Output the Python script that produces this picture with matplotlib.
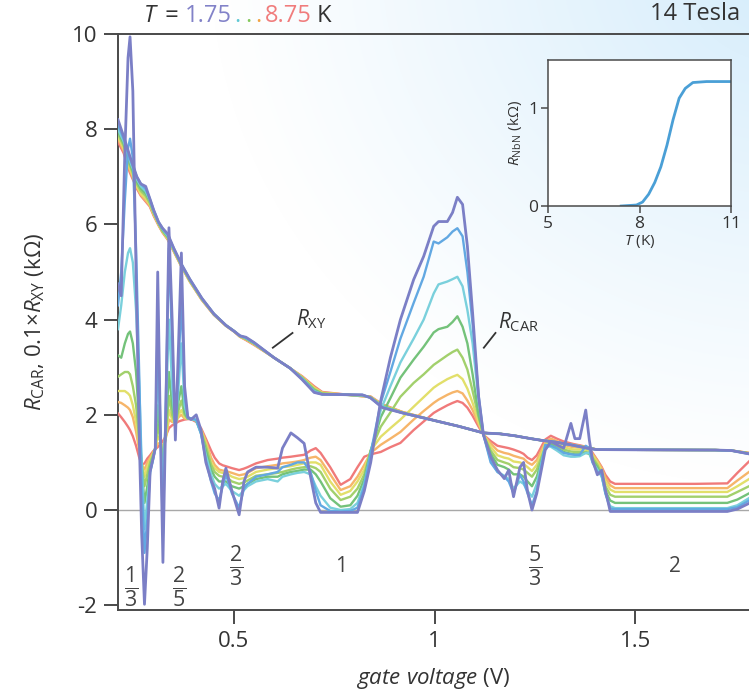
import numpy as np
import matplotlib
matplotlib.use('Agg')
import matplotlib.pyplot as plt

plt.rcParams['font.family'] = ['Open Sans', 'DejaVu Sans']
plt.rcParams['mathtext.fontset'] = 'custom'
plt.rcParams['mathtext.rm'] = 'Open Sans'
plt.rcParams['mathtext.it'] = 'Open Sans:italic'
plt.rcParams['mathtext.bf'] = 'Open Sans:bold'

# temperatures of the sweeps, coldest first
temps = [1.75, 2.75, 3.75, 4.75, 5.75, 6.75, 7.75, 8.75]
colors = ['#7b7fc6', '#62a8e2', '#7ad0dc', '#74c27a', '#a2d06c', '#e2df6a', '#f6b56a', '#f07a7a']

# R_CAR (kOhm) vs gate voltage (V)
gate_v = [0.211, 0.219, 0.228, 0.236, 0.241, 0.248, 0.256, 0.264, 0.270, 0.277,
          0.284, 0.291, 0.298, 0.304, 0.310, 0.316, 0.323, 0.330, 0.338, 0.346,
          0.354, 0.362, 0.369, 0.377, 0.385, 0.393, 0.406, 0.418, 0.430, 0.443,
          0.452, 0.463, 0.472, 0.480, 0.495, 0.513, 0.525, 0.534, 0.555, 0.584,
          0.609, 0.621, 0.642, 0.658, 0.675, 0.691, 0.704, 0.716, 0.740, 0.766,
          0.790, 0.808, 0.825, 0.841, 0.866, 0.890, 0.915, 0.948, 0.973, 0.998,
          1.010, 1.032, 1.045, 1.057, 1.070, 1.082, 1.095, 1.110, 1.122, 1.140,
          1.157, 1.174, 1.185, 1.197, 1.213, 1.222, 1.232, 1.243, 1.255, 1.276,
          1.290, 1.305, 1.322, 1.340, 1.350, 1.362, 1.377, 1.386, 1.394, 1.406,
          1.417, 1.426, 1.438, 1.450, 1.55, 1.65, 1.73, 1.755, 1.784]

rcar_175 = [4.75, 4.5, 7.5, 9.5, 9.94, 8.8, 5.0, 1.5, -0.5, -1.98,
            -0.8, 0.8, 1.07, 1.3, 5.0, 2.0, -1.1, 2.0, 5.93, 4.0,
            1.47, 3.5, 5.4, 2.6, 1.95, 1.9, 2.0, 1.68, 1.0, 0.63,
            0.45, 0.04, 0.6, 0.88, 0.4, -0.1, 0.6, 0.8, 0.9, 0.9,
            0.88, 1.3, 1.62, 1.52, 1.4, 0.7, 0.15, -0.05, -0.05, -0.05,
            -0.05, -0.05, 0.4, 1.0, 2.3, 3.2, 4.0, 4.84, 5.33, 5.96,
            6.06, 6.06, 6.25, 6.57, 6.42, 5.54, 4.14, 2.38, 1.58, 1.12,
            0.84, 0.66, 0.84, 0.28, 0.9, 1.0, 0.39, 0.0, 0.35, 1.26,
            1.44, 1.37, 1.3, 1.82, 1.5, 1.5, 2.1, 1.47, 1.05, 0.74,
            0.84, 0.42, -0.03, -0.03, -0.03, -0.03, -0.03, 0.02, 0.14]
rcar_275 = [4.3, 5.0, 6.5, 7.6, 7.8, 7.4, 5.5, 2.8, 0.6, -0.9,
            -0.2, 0.8, 1.05, 1.3, 4.0, 2.0, -0.5, 2.2, 5.5, 3.5,
            1.6, 3.0, 4.5, 2.4, 1.95, 1.92, 1.9, 1.6, 1.05, 0.6,
            0.35, 0.2, 0.5, 0.75, 0.35, 0.05, 0.45, 0.55, 0.7, 0.75,
            0.8, 0.9, 0.95, 1.0, 1.0, 0.8, 0.4, 0.1, -0.02, -0.03,
            -0.02, 0.05, 0.5, 1.2, 2.25, 2.9, 3.6, 4.35, 4.9, 5.64,
            5.6, 5.73, 5.85, 5.92, 5.75, 5.0, 3.9, 2.4, 1.58, 1.0,
            0.8, 0.7, 0.6, 0.35, 0.74, 0.6, 0.35, 0.1, 0.4, 1.37,
            1.35, 1.3, 1.2, 1.17, 1.16, 1.16, 1.35, 1.3, 1.0, 0.8,
            0.74, 0.35, 0.03, 0.02, 0.02, 0.02, 0.02, 0.06, 0.2]
rcar_375 = [3.8, 4.3, 5.0, 5.4, 5.5, 5.2, 4.2, 2.6, 1.0, -0.4,
            0.2, 0.8, 1.05, 1.3, 3.0, 1.8, 0.3, 2.0, 4.0, 2.6,
            1.7, 2.6, 3.5, 2.2, 1.93, 1.92, 1.88, 1.6, 1.15, 0.75,
            0.55, 0.45, 0.5, 0.55, 0.4, 0.3, 0.42, 0.5, 0.6, 0.65,
            0.6, 0.7, 0.75, 0.78, 0.8, 0.75, 0.5, 0.3, 0.05, 0.0,
            0.02, 0.15, 0.55, 1.2, 2.1, 2.6, 3.1, 3.6, 4.0, 4.55,
            4.74, 4.8, 4.85, 4.9, 4.7, 4.2, 3.5, 2.3, 1.58, 1.05,
            0.8, 0.72, 0.65, 0.45, 0.6, 0.55, 0.4, 0.28, 0.55, 1.35,
            1.33, 1.25, 1.15, 1.12, 1.12, 1.13, 1.2, 1.2, 1.0, 0.85,
            0.7, 0.35, 0.08, 0.04, 0.04, 0.04, 0.04, 0.1, 0.25]
rcar_475 = [3.25, 3.2, 3.5, 3.7, 3.75, 3.5, 2.9, 1.8, 0.9, 0.15,
            0.5, 0.9, 1.1, 1.3, 2.2, 1.6, 0.8, 1.7, 2.9, 2.2,
            1.8, 2.3, 2.6, 2.05, 1.92, 1.92, 1.88, 1.62, 1.25, 0.85,
            0.7, 0.6, 0.6, 0.6, 0.5, 0.45, 0.5, 0.55, 0.65, 0.7,
            0.7, 0.75, 0.8, 0.82, 0.85, 0.85, 0.75, 0.6, 0.25, 0.07,
            0.1, 0.3, 0.65, 1.25, 1.95, 2.35, 2.78, 3.16, 3.43, 3.73,
            3.8, 3.85, 3.95, 4.07, 3.85, 3.5, 2.85, 2.0, 1.58, 1.18,
            0.95, 0.9, 0.85, 0.75, 0.75, 0.7, 0.6, 0.5, 0.7, 1.3,
            1.38, 1.3, 1.22, 1.18, 1.17, 1.17, 1.2, 1.18, 1.05, 0.9,
            0.7, 0.4, 0.2, 0.15, 0.15, 0.15, 0.15, 0.22, 0.35]
rcar_575 = [2.8, 2.85, 2.9, 2.9, 2.85, 2.6, 2.2, 1.5, 1.0, 0.5,
            0.75, 1.0, 1.15, 1.3, 1.8, 1.5, 1.1, 1.55, 2.4, 2.0,
            1.8, 2.1, 2.3, 2.0, 1.92, 1.92, 1.88, 1.65, 1.35, 0.95,
            0.8, 0.72, 0.7, 0.7, 0.6, 0.55, 0.58, 0.62, 0.72, 0.75,
            0.78, 0.8, 0.85, 0.88, 0.9, 0.92, 0.88, 0.8, 0.45, 0.21,
            0.28, 0.45, 0.75, 1.25, 1.75, 2.05, 2.38, 2.67, 2.85, 3.05,
            3.12, 3.25, 3.32, 3.37, 3.2, 2.95, 2.5, 1.95, 1.58, 1.25,
            1.05, 1.0, 0.97, 0.9, 0.88, 0.85, 0.78, 0.7, 0.85, 1.32,
            1.42, 1.35, 1.27, 1.23, 1.22, 1.22, 1.22, 1.2, 1.1, 0.95,
            0.75, 0.5, 0.32, 0.28, 0.28, 0.28, 0.28, 0.38, 0.5]
rcar_675 = [2.5, 2.5, 2.5, 2.45, 2.4, 2.2, 1.85, 1.35, 1.0, 0.7,
            0.9, 1.05, 1.17, 1.3, 1.55, 1.45, 1.25, 1.5, 2.1, 1.9,
            1.8, 2.0, 2.1, 1.95, 1.92, 1.92, 1.88, 1.67, 1.4, 1.0,
            0.88, 0.8, 0.78, 0.78, 0.7, 0.65, 0.67, 0.7, 0.8, 0.85,
            0.88, 0.9, 0.92, 0.95, 0.98, 1.0, 1.0, 0.95, 0.6, 0.32,
            0.4, 0.6, 0.85, 1.25, 1.54, 1.72, 1.9, 2.17, 2.37, 2.57,
            2.64, 2.75, 2.8, 2.84, 2.75, 2.55, 2.25, 1.85, 1.58, 1.33,
            1.15, 1.1, 1.08, 1.02, 1.0, 0.97, 0.9, 0.82, 0.95, 1.38,
            1.45, 1.4, 1.32, 1.28, 1.27, 1.27, 1.27, 1.24, 1.15, 1.0,
            0.82, 0.6, 0.43, 0.38, 0.38, 0.38, 0.38, 0.5, 0.65]
rcar_775 = [2.27, 2.25, 2.2, 2.15, 2.1, 1.95, 1.65, 1.25, 0.95, 0.85,
            1.0, 1.1, 1.2, 1.28, 1.4, 1.4, 1.35, 1.5, 1.9, 1.85,
            1.85, 1.95, 2.0, 1.92, 1.92, 1.92, 1.88, 1.7, 1.45, 1.1,
            0.95, 0.85, 0.83, 0.82, 0.78, 0.73, 0.75, 0.78, 0.88, 0.92,
            0.95, 0.98, 1.0, 1.02, 1.05, 1.1, 1.12, 1.05, 0.75, 0.42,
            0.5, 0.7, 0.95, 1.2, 1.37, 1.5, 1.64, 1.9, 2.08, 2.25,
            2.32, 2.42, 2.47, 2.5, 2.45, 2.3, 2.1, 1.8, 1.58, 1.4,
            1.25, 1.2, 1.18, 1.14, 1.1, 1.08, 1.0, 0.95, 1.05, 1.42,
            1.5, 1.45, 1.37, 1.33, 1.32, 1.31, 1.3, 1.27, 1.18, 1.04,
            0.88, 0.68, 0.52, 0.46, 0.46, 0.46, 0.46, 0.62, 0.8]
rcar_875 = [2.03, 1.95, 1.85, 1.75, 1.68, 1.55, 1.35, 1.1, 0.95, 0.98,
            1.08, 1.15, 1.23, 1.28, 1.32, 1.38, 1.45, 1.55, 1.72, 1.78,
            1.82, 1.86, 1.88, 1.9, 1.91, 1.91, 1.85, 1.72, 1.5, 1.25,
            1.1, 0.98, 0.94, 0.92, 0.88, 0.84, 0.87, 0.9, 0.98, 1.05,
            1.08, 1.1, 1.12, 1.14, 1.16, 1.25, 1.3, 1.2, 0.9, 0.53,
            0.65, 0.9, 1.12, 1.17, 1.22, 1.32, 1.41, 1.68, 1.86, 2.04,
            2.1, 2.2, 2.25, 2.29, 2.25, 2.15, 1.98, 1.75, 1.58, 1.45,
            1.35, 1.32, 1.3, 1.27, 1.22, 1.18, 1.1, 1.05, 1.15, 1.48,
            1.56, 1.5, 1.44, 1.4, 1.38, 1.36, 1.33, 1.3, 1.2, 1.05,
            0.9, 0.74, 0.6, 0.55, 0.55, 0.55, 0.56, 0.78, 1.02]

# 0.1 x R_XY (kOhm) vs gate voltage (V)
rxy_v = [0.211, 0.225, 0.24, 0.258, 0.268, 0.28, 0.29, 0.30, 0.312, 0.322,
         0.335, 0.35, 0.37, 0.39, 0.42, 0.45, 0.48, 0.50, 0.515, 0.53,
         0.55, 0.60, 0.64, 0.67, 0.70, 0.72, 0.82, 0.84, 0.87, 0.92,
         1.0, 1.06, 1.122, 1.164, 1.2, 1.24, 1.27, 1.3, 1.34, 1.38,
         1.405, 1.5, 1.7, 1.74, 1.784]
rxy_175 = [8.2, 7.85, 7.45, 7.0, 6.85, 6.8, 6.55, 6.3, 6.05, 5.92,
           5.8, 5.5, 5.15, 4.85, 4.45, 4.12, 3.88, 3.76, 3.66, 3.63,
           3.52, 3.2, 2.98, 2.74, 2.47, 2.43, 2.42, 2.36, 2.15, 2.04,
           1.88, 1.76, 1.62, 1.6, 1.56, 1.5, 1.46, 1.43, 1.37, 1.3,
           1.27, 1.265, 1.26, 1.25, 1.18]
rxy_275 = [8.1, 7.8, 7.4, 7.0, 6.85, 6.75, 6.55, 6.3, 6.05, 5.92,
           5.78, 5.5, 5.15, 4.85, 4.45, 4.12, 3.88, 3.76, 3.66, 3.62,
           3.52, 3.2, 2.98, 2.75, 2.48, 2.43, 2.42, 2.36, 2.16, 2.04,
           1.88, 1.76, 1.62, 1.6, 1.56, 1.5, 1.46, 1.43, 1.37, 1.3,
           1.27, 1.265, 1.26, 1.25, 1.18]
rxy_375 = [8.0, 7.75, 7.35, 6.95, 6.8, 6.7, 6.52, 6.28, 6.04, 5.9,
           5.76, 5.48, 5.14, 4.84, 4.44, 4.12, 3.88, 3.76, 3.66, 3.61,
           3.51, 3.2, 2.98, 2.76, 2.5, 2.43, 2.41, 2.36, 2.17, 2.04,
           1.88, 1.76, 1.62, 1.6, 1.56, 1.5, 1.46, 1.43, 1.37, 1.3,
           1.27, 1.265, 1.26, 1.25, 1.18]
rxy_475 = [7.95, 7.7, 7.3, 6.9, 6.75, 6.65, 6.5, 6.26, 6.03, 5.88,
           5.74, 5.47, 5.13, 4.83, 4.44, 4.12, 3.88, 3.76, 3.66, 3.6,
           3.5, 3.2, 2.98, 2.77, 2.52, 2.44, 2.41, 2.37, 2.18, 2.04,
           1.88, 1.76, 1.62, 1.6, 1.56, 1.5, 1.46, 1.43, 1.37, 1.31,
           1.27, 1.265, 1.26, 1.25, 1.19]
rxy_575 = [7.9, 7.65, 7.25, 6.85, 6.7, 6.6, 6.45, 6.24, 6.02, 5.86,
           5.72, 5.46, 5.12, 4.82, 4.43, 4.11, 3.88, 3.76, 3.65, 3.6,
           3.5, 3.2, 2.98, 2.78, 2.54, 2.45, 2.4, 2.37, 2.19, 2.05,
           1.88, 1.76, 1.62, 1.6, 1.56, 1.5, 1.46, 1.43, 1.37, 1.31,
           1.27, 1.265, 1.26, 1.25, 1.19]
rxy_675 = [7.85, 7.6, 7.2, 6.8, 6.65, 6.55, 6.42, 6.22, 6.0, 5.85,
           5.7, 5.45, 5.11, 4.81, 4.42, 4.11, 3.87, 3.76, 3.65, 3.59,
           3.49, 3.2, 2.98, 2.79, 2.56, 2.46, 2.4, 2.38, 2.2, 2.05,
           1.88, 1.76, 1.62, 1.6, 1.56, 1.5, 1.46, 1.43, 1.37, 1.31,
           1.27, 1.265, 1.26, 1.25, 1.19]
rxy_775 = [7.8, 7.55, 7.15, 6.78, 6.62, 6.5, 6.4, 6.2, 5.99, 5.84,
           5.69, 5.44, 5.1, 4.8, 4.42, 4.1, 3.87, 3.75, 3.64, 3.58,
           3.48, 3.2, 2.98, 2.8, 2.58, 2.47, 2.39, 2.38, 2.21, 2.06,
           1.88, 1.76, 1.62, 1.6, 1.56, 1.5, 1.46, 1.43, 1.38, 1.32,
           1.27, 1.265, 1.26, 1.25, 1.2]
rxy_875 = [7.73, 7.5, 7.1, 6.75, 6.6, 6.48, 6.38, 6.18, 5.98, 5.83,
           5.68, 5.43, 5.1, 4.8, 4.41, 4.1, 3.87, 3.75, 3.64, 3.57,
           3.47, 3.2, 2.98, 2.81, 2.6, 2.48, 2.39, 2.39, 2.22, 2.06,
           1.88, 1.76, 1.62, 1.6, 1.56, 1.5, 1.46, 1.43, 1.38, 1.32,
           1.27, 1.265, 1.26, 1.25, 1.2]

rcar_all = [rcar_175, rcar_275, rcar_375, rcar_475, rcar_575, rcar_675, rcar_775, rcar_875]
rxy_all = [rxy_175, rxy_275, rxy_375, rxy_475, rxy_575, rxy_675, rxy_775, rxy_875]

# filling factors marked under the trace
nu_labels = [r'$\frac{1}{3}$', r'$\frac{2}{5}$', r'$\frac{2}{3}$', '1', r'$\frac{5}{3}$', '2']
nu_v = [0.244, 0.363, 0.505, 0.766, 1.251, 1.60]
nu_y = [-1.62, -1.62, -1.18, -1.18, -1.18, -1.18]

# inset: NbN resistance vs temperature
nbn_t = [7.4, 7.9, 8.1, 8.3, 8.5, 8.7, 8.9, 9.1, 9.3, 9.5, 9.75, 10.2, 11.0]
nbn_r = [0.0, 0.01, 0.04, 0.12, 0.24, 0.4, 0.62, 0.88, 1.1, 1.2, 1.26, 1.27, 1.27]

W, H = 749, 700
fig = plt.figure(figsize=(W / 100, H / 100), dpi=100)

# soft blue glow in the upper right corner
bg = fig.add_axes([0, 0, 1, 1], zorder=-10)
yy, xx = np.mgrid[0:H, 0:W]
d = np.hypot(xx - 790, (yy + 40) * 1.1) / 580
glow = np.clip(1 - d, 0, 1) ** 1.1
tint = np.array([0.83, 0.925, 0.985])
img = 1 - glow[..., None] * (1 - tint)
bg.imshow(img, extent=[0, 1, 0, 1], aspect='auto')
bg.axis('off')

dark = '#4a4a4a'
ax = fig.add_axes([118 / W, 1 - 610 / H, 1 - 118 / W, 576 / H])
ax.set_facecolor('none')
ax.set_xlim(0.211, 1.784)
ax.set_ylim(-2.1, 10)
ax.axhline(0, color='#a8a8a8', lw=1.0, zorder=1)

# hottest first so the coldest trace ends up on top
for i in range(len(temps) - 1, -1, -1):
    lw = 2.0 if i == 0 else 1.7
    ax.plot(rxy_v, rxy_all[i], color=colors[i], lw=lw, zorder=3 + (8 - i) * 0.1,
            solid_joinstyle='round')
    ax.plot(gate_v, rcar_all[i], color=colors[i], lw=lw, zorder=3 + (8 - i) * 0.1,
            solid_joinstyle='round')

for s in ['left', 'bottom', 'top']:
    ax.spines[s].set_color(dark)
    ax.spines[s].set_linewidth(1.4)
ax.spines['right'].set_visible(False)
ax.set_xticks([0.5, 1, 1.5])
ax.set_xticklabels(['0.5', '1', '1.5'])
ax.set_yticks([-2, 0, 2, 4, 6, 8, 10])
ax.set_yticklabels(['-2', '0', '2', '4', '6', '8', '10'])
ax.tick_params(direction='out', length=10, width=1.4, color=dark, labelsize=16,
               labelcolor='#333333', pad=5)
ax.set_ylabel(r'$R_{\rm CAR}$, 0.1×$R_{\rm XY}$ (kΩ)', fontsize=16, color='#333333', labelpad=18)
ax.set_xlabel(r'$gate\ voltage$ (V)', fontsize=16, color='#333333', labelpad=10)

for lab, v, y in zip(nu_labels, nu_v, nu_y):
    ax.text(v, y, lab, fontsize=22 if lab.startswith('$') else 15, ha='center', va='center',
            color='#444444')

# curve labels with leader lines
ax.plot([0.597, 0.646], [3.41, 3.72], color='#333333', lw=1.3)
ax.text(0.655, 4.0, r'$R_{\rm XY}$', fontsize=15, color='#333333', va='center')
ax.plot([1.123, 1.152], [3.41, 3.72], color='#333333', lw=1.3)
ax.text(1.158, 3.95, r'$R_{\rm CAR}$', fontsize=15, color='#333333', va='center')

# coloured temperature range above the panel, each piece chained to the previous one
pieces = [(' = ', '#333333', 0), ('1.75', '#8282c8', 0), ('.', '#5fc8d4', 2),
          ('.', '#84c85a', 3), ('.', '#f2a443', 3), ('8.75', '#f07c7c', 2), (' K', '#333333', 0)]
anchor = fig.text(143 / W, 1 - 22 / H, r'$T$', fontsize=17, color='#333333', va='baseline')
for s, c, gap in pieces:
    anchor = ax.annotate(s, xy=(1, 0), xycoords=anchor, xytext=(gap, 0),
                         textcoords='offset points', fontsize=17, color=c,
                         va='bottom', ha='left', annotation_clip=False)
fig.text(740 / W, 1 - 14 / H, '14 Tesla', fontsize=17, color='#333333', ha='right', va='center')

# inset
ins = fig.add_axes([548 / W, 1 - 206 / H, 183 / W, 146 / H])
ins.set_facecolor('white')
ins.plot(nbn_t, nbn_r, color='#4a9fd6', lw=2.0)
ins.set_xlim(5, 11)
ins.set_ylim(0, 1.49)
ins.set_xticks([5, 8, 11])
ins.set_yticks([0, 1])
for s in ins.spines.values():
    s.set_color(dark)
    s.set_linewidth(1.1)
ins.tick_params(direction='out', length=5, width=1.1, color=dark, labelsize=12.5,
                labelcolor='#333333', pad=2)
ins.set_ylabel(r'$R_{\rm NbN}$ (kΩ)', fontsize=11, color='#333333', labelpad=3)
ins.set_xlabel(r'$T$ (K)', fontsize=11, color='#333333', labelpad=1)

fig.savefig('out.png', dpi=100)
